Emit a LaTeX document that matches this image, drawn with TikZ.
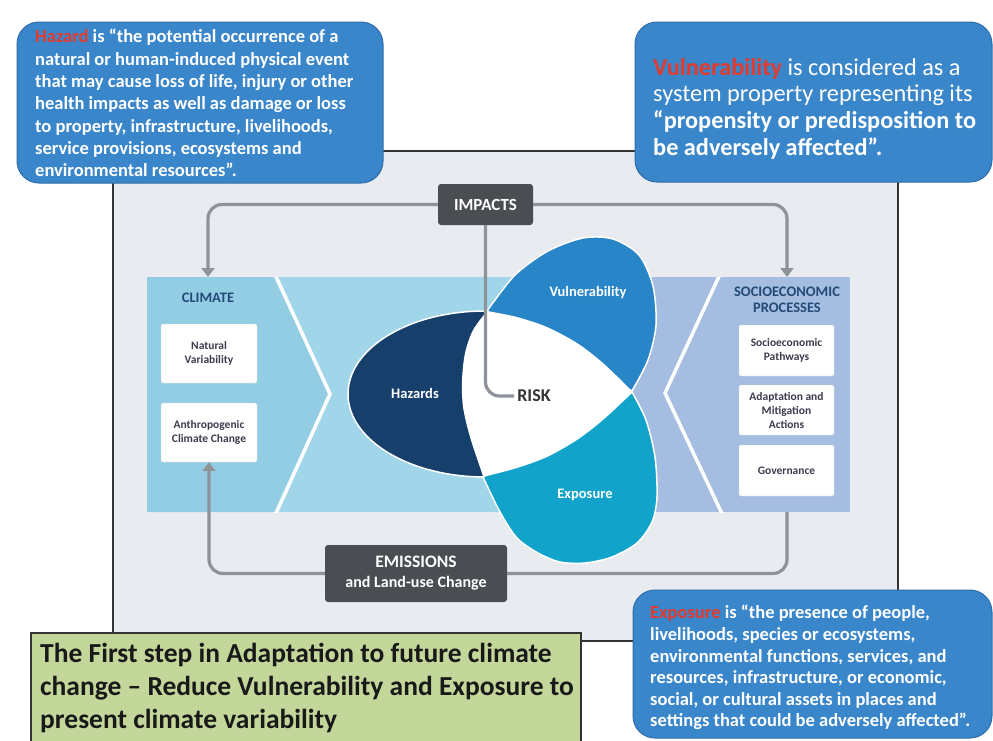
\documentclass[tikz,border=0pt]{standalone}
\usepackage{fontspec}
\setmainfont{Carlito}
\usetikzlibrary{arrows.meta}
\definecolor{calloutblue}{HTML}{3A86CB}
\definecolor{calloutedge}{HTML}{2E6DA8}
\definecolor{redword}{HTML}{E23B2E}
\definecolor{framefill}{HTML}{E8ECF0}
\definecolor{bandleft}{HTML}{93CDE4}
\definecolor{bandmid}{HTML}{A1D5EA}
\definecolor{lavender}{HTML}{A4BDE1}
\definecolor{hazcol}{HTML}{173F6C}
\definecolor{vulcol}{HTML}{2886C8}
\definecolor{expcol}{HTML}{11A3C9}
\definecolor{boxgray}{HTML}{4A4D52}
\definecolor{conngray}{HTML}{8E9399}
\definecolor{innertext}{HTML}{3C3C4E}
\definecolor{titleblue}{HTML}{244B78}
\definecolor{greenfill}{HTML}{C4D79A}
\begin{document}
\begin{tikzpicture}[x=1pt,y=-1pt,
  callout/.style={fill=calloutblue, draw=calloutedge, line width=1pt, rounded corners=22pt, inner sep=0pt},
  calltext/.style={text=white, align=left, anchor=north west, inner sep=0pt, font=\bfseries\fontsize{18.5}{22.3}\selectfont},
  ibox/.style={fill=white, draw=black!15, rounded corners=2pt, align=center, text=innertext, font=\bfseries\fontsize{11.5}{14}\selectfont, inner sep=1pt},
  ptitle/.style={text=titleblue, align=center, inner sep=0pt, font=\bfseries\fontsize{14.5}{15.5}\selectfont},
  petallabel/.style={text=white, inner sep=0pt, font=\bfseries\fontsize{14.5}{16}\selectfont},
  graybox/.style={fill=boxgray, rounded corners=3pt, text=white, align=center, inner sep=2pt},
  conn/.style={draw=conngray, line width=3.2pt, rounded corners=14pt},
  arrowend/.style={-{Triangle[width=13pt,length=9pt]}},
  petal/.style={draw=white, line width=1.5pt}
]
\useasboundingbox (0,0) rectangle (993,740);
\fill[white] (0,0) rectangle (993,740);

% main frame
\draw[line width=2pt, draw=black!80, fill=framefill] (113,151) rectangle (898,641);

% panels
\begin{scope}
\clip (147,277) rectangle (850,512);
\fill[bandmid] (147,277) rectangle (612,512);
\fill[bandleft] (147,277) -- (273,277) -- (330,394) -- (273,512) -- (147,512) -- cycle;
\fill[lavender] (612,277) rectangle (850,512);
\draw[white, line width=3.5pt] (273,270) -- (330,394) -- (273,520);
\draw[white, line width=3.5pt] (722,270) -- (665,393) -- (725,520);
\end{scope}

% panel contents
\node[ptitle] (climt) at (208,298) {CLIMATE};
\node[ibox, minimum width=96pt, minimum height=59pt] (natv) at (209,353.5) {Natural\\Variability};
\node[ibox, minimum width=96pt, minimum height=59pt] (anth) at (209,432.5) {Anthropogenic\\Climate Change};
\node[ptitle] (soct) at (787,300) {SOCIOECONOMIC\\PROCESSES};
\node[ibox, minimum width=95pt, minimum height=51pt] (sp) at (786.5,350.5) {Socioeconomic\\Pathways};
\node[ibox, minimum width=95pt, minimum height=50pt] (ama) at (786.5,410) {Adaptation and\\Mitigation\\Actions};
\node[ibox, minimum width=95pt, minimum height=51pt] (gov) at (786.5,470.5) {Governance};

% petals
\fill[hazcol, petal] (485,394) ellipse [x radius=137, y radius=83];
\fill[vulcol, petal] plot[smooth] coordinates {(487,311) (515,275) (548,251) (583,238) (613,239) (639,255) (653,286) (656,325) (648,360) (632,391)} -- cycle;
\fill[expcol, petal] plot[smooth] coordinates {(632,392) (646,420) (655,457) (657,497) (652,522) (637,543) (612,557) (585,563) (560,562) (538,553) (517,538) (500,512) (483,477)} -- cycle;
\fill[white] plot[smooth] coordinates {(487,311) (517,317) (547,327) (577,343) (603,363) (632,391)}
  -- plot[smooth] coordinates {(632,393) (603,420) (577,440) (547,457) (517,468) (483,477)}
  -- plot[smooth] coordinates {(482,473) (470,437) (463,407) (462,380) (465,353) (473,330) (487,311)} -- cycle;

\node[petallabel] (hazl) at (415,393) {Hazards};
\node[petallabel] (vull) at (588,293) {Vulnerability};
\node[petallabel] (expl) at (585,495) {Exposure};
\node[text=black!80, inner sep=3pt, font=\bfseries\fontsize{18}{20}\selectfont] (risk) at (534,396) {RISK};

% grey boxes
\node[graybox, minimum width=95pt, minimum height=41pt, font=\bfseries\fontsize{17}{19}\selectfont] (imp) at (485.5,204.5) {IMPACTS};
\node[graybox, minimum width=182pt, minimum height=57pt, font=\bfseries\fontsize{16}{20}\selectfont] (emi) at (416,573.5) {{\fontsize{17.5}{20}\selectfont EMISSIONS}\\and Land-use Change};

% connectors
\coordinate (climin) at (208,277);
\coordinate (socin) at (787,277);
\coordinate (socout) at (787,512);
\draw[conn, arrowend] (imp.west) -| (climin);
\draw[conn, arrowend] (imp.east) -| (socin);
\draw[conn] (imp.south) |- (risk.west);
\draw[conn] (socout) |- (emi.east);
\draw[conn, arrowend] (emi.west) -| (anth.south);

% callouts
\node[callout, minimum width=366pt, minimum height=161pt] (hazbox) at (200,102.5) {};
\node[calltext] (haztext) at (35,29) {\textcolor{redword}{Hazard} is “the potential occurrence of a\\natural or human-induced physical event\\that may cause loss of life, injury or other\\health impacts as well as damage or loss\\to property, infrastructure, livelihoods,\\service provisions, ecosystems and\\environmental resources”.};

\node[callout, minimum width=357pt, minimum height=160pt] (vulbox) at (813.5,102) {};
\node[calltext, font=\fontsize{24.3}{26.7}\selectfont] (vultext) at (653,58) {\textcolor{redword}{\bfseries Vulnerability} is considered as a\\system property representing its\\\textbf{“propensity or predisposition to}\\\textbf{be adversely affected”.}};

\node[callout, minimum width=359pt, minimum height=148pt] (expbox) at (812.5,664) {};
\node[calltext, font=\bfseries\fontsize{18.5}{21.6}\selectfont] (exptext) at (650,605) {\textcolor{redword}{Exposure} is “the presence of people,\\livelihoods, species or ecosystems,\\environmental functions, services, and\\resources, infrastructure, or economic,\\social, or cultural assets in places and\\settings that could be adversely affected”.};

% green box
\node[draw=black!80, line width=1.5pt, fill=greenfill, minimum width=550pt, minimum height=115pt, anchor=north west, inner sep=0pt] (gbox) at (30,632) {};
\node[anchor=north west, inner sep=0pt, align=left, text=black!90, font=\bfseries\fontsize{27.5}{33}\selectfont] (gtext) at (40,643) {The First step in Adaptation to future climate\\change – Reduce Vulnerability and Exposure to\\present climate variability};
\end{tikzpicture}
\end{document}
